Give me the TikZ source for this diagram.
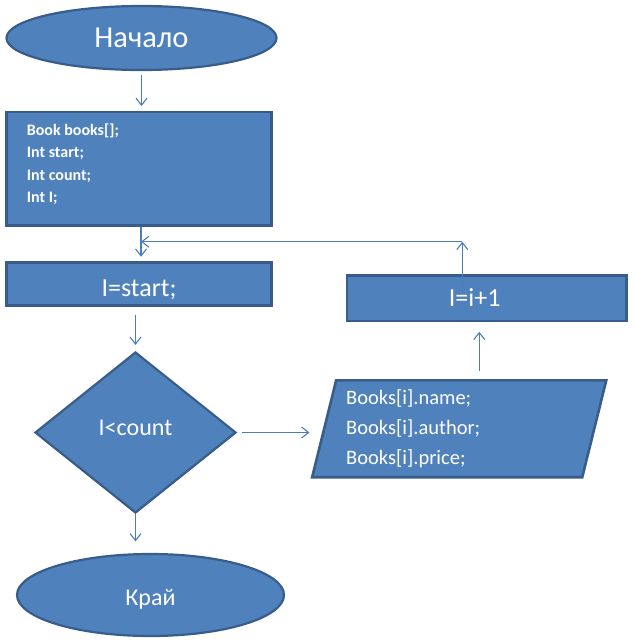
\documentclass[tikz,border=0pt]{standalone}
\usepackage{fontspec}
\setmainfont{Carlito}
\usetikzlibrary{shapes.geometric,arrows.meta}
\definecolor{fillc}{HTML}{4F81BD}
\definecolor{bordc}{HTML}{385D8A}
\definecolor{linec}{HTML}{4A7EBB}
\begin{document}
\begin{tikzpicture}[x=1pt,y=-1pt,
  shp/.style={draw=bordc, fill=fillc, line width=2.6pt, inner sep=0pt, text=white},
  oval/.style={shp, ellipse, line width=2.2pt},
  box/.style={shp, rectangle},
  arr/.style={draw=linec, line width=1.1pt, -{Straight Barb[length=7pt,width=11pt]}},
  lbl/.style={text=white, inner sep=0pt},
  bigfont/.style={font=\fontsize{30.5}{36}\selectfont},
  midfont/.style={font=\fontsize{26}{31}\selectfont},
  smallfont/.style={font=\fontsize{24}{29}\selectfont},
  declfont/.style={font=\fontsize{16}{18}\selectfont\bfseries},
  parafont/.style={font=\fontsize{20.5}{24}\selectfont},
]
\useasboundingbox (0,0) rectangle (634,642);

% start oval
\node[oval, bigfont, minimum width=270pt, minimum height=64pt, text height=19pt, text depth=0pt] (begin) at (141.5,38) {Начало};

% declarations box
\node[box, minimum width=265pt, minimum height=113.3pt] (decl) at (138.8,168.7) {};
\node[lbl, declfont, anchor=base west] (d1) at (26.7,135) {Book books[];};
\node[lbl, declfont, anchor=base west] (d2) at (26.7,157.7) {Int start;};
\node[lbl, declfont, anchor=base west] (d3) at (26.7,180) {Int count;};
\node[lbl, declfont, anchor=base west] (d4) at (26.7,202.7) {Int I;};

% init box
\node[box, midfont, minimum width=265.2pt, minimum height=43.2pt, text height=24pt, text depth=0pt] (init) at (139,284) {I=start;};

% condition
\node[shp, diamond, smallfont, line width=2.2pt, minimum width=201pt, minimum height=161pt, text height=15.2pt, text depth=10pt] (cond) at (135.5,432.5) {I<count};

% end oval
\node[oval, smallfont, minimum width=267pt, minimum height=82pt, text height=21.2pt, text depth=0pt] (finish) at (150.5,595) {Край};

% increment box
\node[box, minimum width=279.3pt, minimum height=45.7pt] (iinc) at (486.7,298.2) {};
\node[lbl, midfont, text height=16.4pt, text depth=0pt] (iinctext) at (474.7,298.3) {I=i+1};

% output parallelogram
\node[inner sep=0pt, minimum width=293.7pt, minimum height=96.4pt] (para) at (459.2,428.8) {};
\filldraw[draw=bordc, fill=fillc, line width=2.6pt, line join=miter]
  ([xshift=24pt]para.north west) -- (para.north east) -- ([xshift=-24pt]para.south east) -- (para.south west) -- cycle;
\node[lbl, parafont, anchor=base west] (p1) at (346,404.3) {Books[i].name;};
\node[lbl, parafont, anchor=base west] (p2) at (346,434) {Books[i].author;};
\node[lbl, parafont, anchor=base west] (p3) at (346,464) {Books[i].price;};

% connectors
\coordinate (join) at (141,241.7);
\coordinate (fbk) at (462.3,241.7);
\draw[arr, shorten <=4pt, shorten >=4.7pt] (begin.south) -- (begin.south |- decl.north);
\draw[arr, shorten >=4.3pt] (decl.south -| join) -- (init.north -| join);
\draw[arr] (iinctext.north -| fbk) -- (fbk);
\draw[arr] (fbk) -- (join);
\draw[arr, shorten <=8pt, shorten >=6pt] (init.south -| cond.north) -- (cond.north);
\draw[arr, shorten >=11.5pt] (cond.south) -- (cond.south |- finish.north);
\draw[arr, shorten <=5pt, shorten >=2.7pt] (cond.east) -- (cond.east -| para.west);
\draw[arr, shorten <=9.3pt, shorten >=9.4pt] ([xshift=20.1pt]para.north) -- ([xshift=20.1pt]para.north |- iinc.south);
\end{tikzpicture}
\end{document}
